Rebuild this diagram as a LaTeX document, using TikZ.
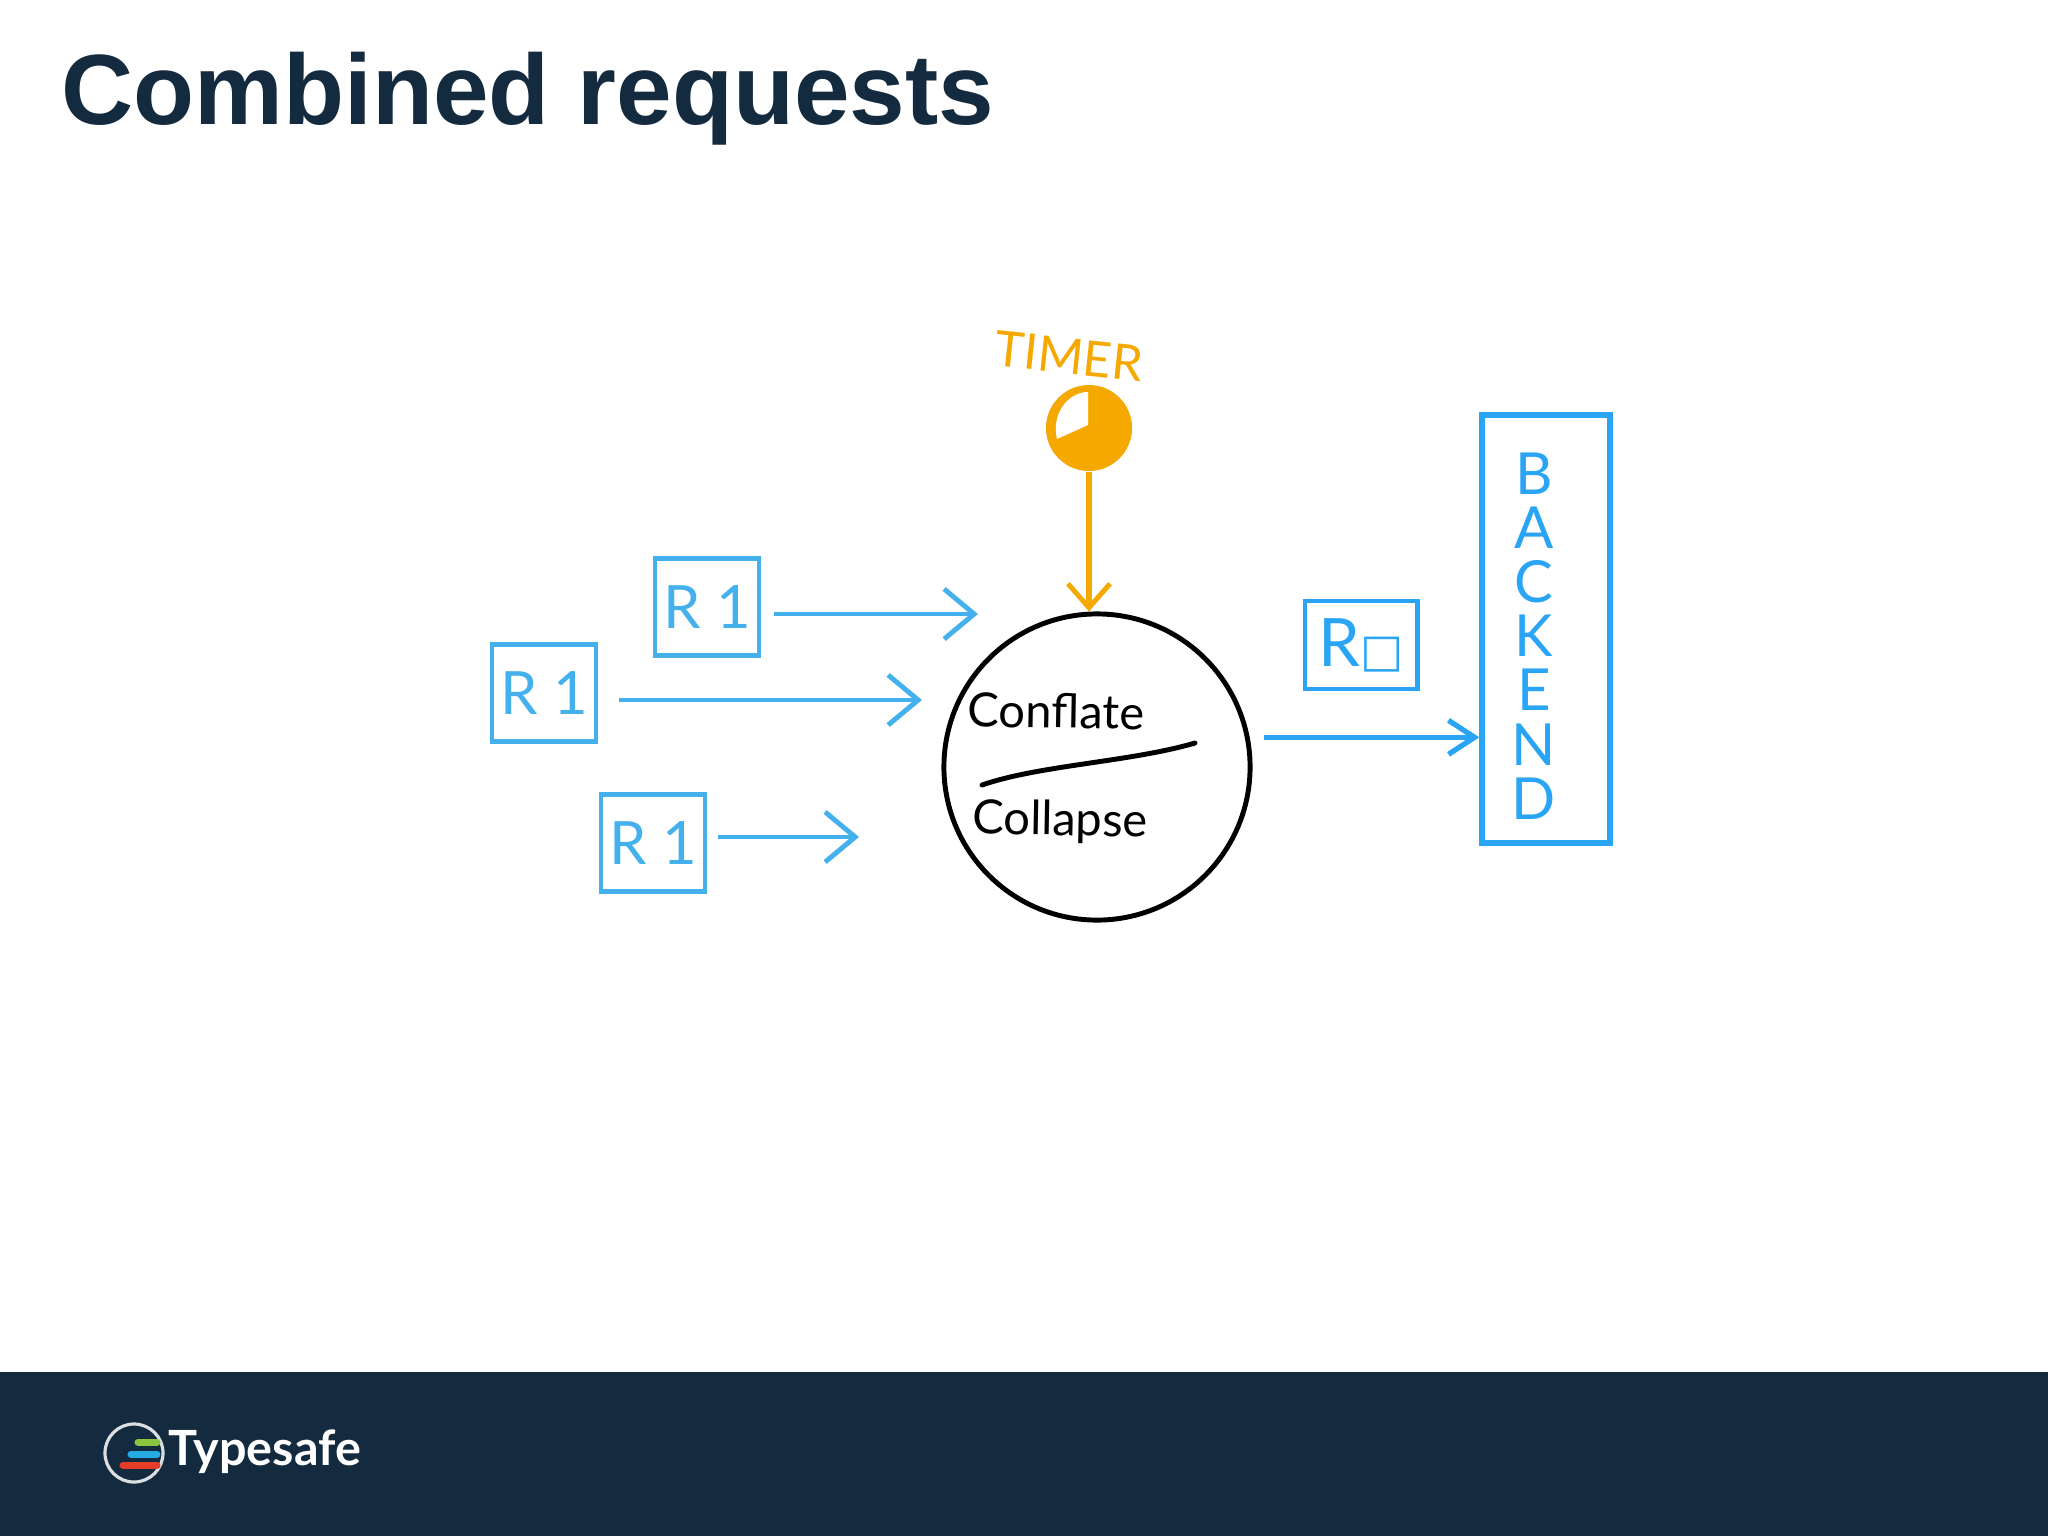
\documentclass[tikz,border=0pt]{standalone}
\usepackage{fontspec}
\setmainfont{Liberation Sans}
\newfontfamily\handfont{Lato}
\newfontfamily\symfont{DejaVu Sans}
\usetikzlibrary{arrows.meta}
\definecolor{navy}{HTML}{132A3F}
\definecolor{skyline}{HTML}{45B1EC}
\definecolor{brightline}{HTML}{2AA5F5}
\definecolor{timerorange}{HTML}{F5A800}
\tikzset{
	reqbox/.style={draw=skyline,line width=1.3pt,minimum width=1.04cm,minimum height=0.97cm,inner sep=0pt,text=skyline,font=\handfont\fontsize{17}{17}\selectfont},
	flow/.style={draw=skyline,line width=1.4pt,arrows={-{Straight Barb[length=0.3cm,width=0.5cm,line width=1.4pt]}}},
	outflow/.style={draw=brightline,line width=1.5pt,arrows={-{Straight Barb[length=0.26cm,width=0.34cm,line width=1.5pt]}}},
	handtext/.style={inner sep=0pt,font=\handfont\fontsize{13.4}{13.4}\selectfont}
}
\begin{document}
\begin{tikzpicture}[x=0.01cm,y=-0.01cm]
	\useasboundingbox (0,0) rectangle (2048,1536);
	% Title and footer
	\node (title) [anchor=base west,inner sep=0pt,text=navy,font=\bfseries\fontsize{28.4}{28.4}\selectfont] at (61,124) {Combined requests};
	\fill [navy] (0,1372) rectangle (2048,1536);
	\node (logo) [circle,draw=white!85!navy,line width=0.9pt,minimum size=0.58cm,inner sep=0pt] at (134,1453) {};
	\draw [line width=2pt,line cap=round,draw={rgb,255:red,139;green,197;blue,63}] (138,1442) -- (157,1442);
	\draw [line width=2pt,line cap=round,draw={rgb,255:red,37;green,170;blue,225}] (131,1454) -- (157,1454);
	\draw [line width=2pt,line cap=round,draw={rgb,255:red,230;green,60;blue,40}] (123,1465) -- (157,1465);
	\node (brand) [anchor=west,inner sep=0pt,text=white,font=\handfont\bfseries\fontsize{13.8}{13.8}\selectfont] at (168,1452) {Typesafe};
	% Requests
	\node (reqa) [reqbox] at (707,607) {R 1};
	\node (reqb) [reqbox] at (544,693) {R 1};
	\node (reqc) [reqbox] at (653,843) {R 1};
	\coordinate (tipa) at (978,614);
	\coordinate (tipb) at (922,700);
	\coordinate (tipc) at (859,837);
	\draw [flow,shorten <=0.13cm] (reqa.east |- tipa) -- (tipa);
	\draw [flow,shorten <=0.21cm] (reqb.east |- tipb) -- (tipb);
	\draw [flow,shorten <=0.11cm] (reqc.east |- tipc) -- (tipc);
	% Conflate and collapse
	\node (merge) [circle,draw=black,line width=1.4pt,minimum size=3.06cm,inner sep=0pt] at (1097,767) {};
	\node (conflate) [handtext,rotate=-1] at (1056,711) {Conflate};
	\node (collapse) [handtext,rotate=-1] at (1060,822) {Collapse};
	\draw [line width=1.4pt,line cap=round] (982,785) .. controls (1040,765) and (1130,762) .. (1195,743);
	% Timer
	\node (timerlabel) [handtext,rotate=-6,text=timerorange,font=\handfont\fontsize{14}{14}\selectfont] at (1069,356) {TIMER};
	\node (timer) [circle,fill=timerorange,minimum size=0.86cm,inner sep=0pt] at (1089,428) {};
	\fill [white] (1088,425) -- (1088,392) .. controls (1068,392) and (1051,414) .. (1057,439) -- cycle;
	\draw [arrows={-{Straight Barb[length=0.24cm,width=0.42cm,line width=1.4pt]}},draw=timerorange,line width=1.5pt] (timer.south) -- (timer.south |- merge.north);
	% Backend
	\node (backend) [draw=brightline,line width=1.5pt,minimum width=1.28cm,minimum height=4.28cm,inner sep=0pt] at (1546,629) {};
	\node (backendlabel) [inner sep=0pt,align=center,text=brightline,font=\handfont\fontsize{16.5}{15.4}\selectfont] at (1534,636) {B\\A\\C\\K\\E\\N\\D};
	\node (result) [draw=brightline,line width=1.4pt,minimum width=1.12cm,minimum height=0.88cm,inner sep=0pt,text=brightline,font=\handfont\fontsize{19}{19}\selectfont] at (1361,645) {R{\symfont\fontsize{13}{13}\selectfont □}};
	\draw [outflow,shorten <=0.14cm] (merge.11) -- (merge.11 -| backend.west);
\end{tikzpicture}
\end{document}
